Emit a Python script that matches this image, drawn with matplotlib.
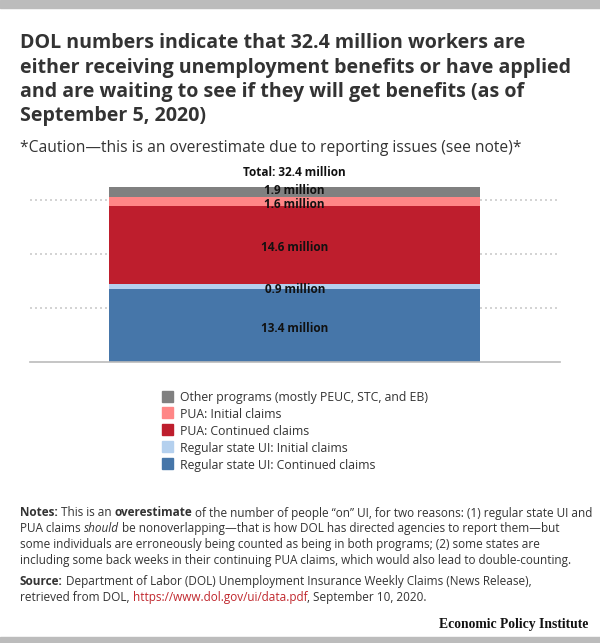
import matplotlib
matplotlib.use("Agg")
import matplotlib.pyplot as plt
from matplotlib.patches import Rectangle

# --- dati (milioni di lavoratori, al 5 settembre 2020) -----------------------------
categorie = [
    "Regular state UI: Continued claims",
    "Regular state UI: Initial claims",
    "PUA: Continued claims",
    "PUA: Initial claims",
    "Other programs (mostly PEUC, STC, and EB)",
]
valori = [13.4, 0.9, 14.6, 1.6, 1.9]
colori = ["#4676a9", "#b4d0ee", "#be1e2d", "#ff8686", "#808080"]
totale = 32.4

titolo = ["DOL numbers indicate that 32.4 million workers are",
          "either receiving unemployment benefits or have applied",
          "and are waiting to see if they will get benefits (as of",
          "September 5, 2020)"]
sottotitolo = "*Caution\u2014this is an overestimate due to reporting issues (see note)*"

FONT = "Open Sans"
W, H = 600, 643
plt.rcParams["font.family"] = FONT

fig = plt.figure(figsize=(W / 100, H / 100), dpi=100)
fig.patch.set_facecolor("white")
renderer = fig.canvas.get_renderer()


def fy(px):
    return 1 - px / H


def larghezza(testo, **kw):
    t = fig.text(0, 0, testo, **kw)
    w = t.get_window_extent(renderer=renderer).width
    t.remove()
    return w


def misura(testo, target_px, **kw):
    """dimensione font tale che il testo occupi target_px pixel"""
    return 10 * target_px / larghezza(testo, fontsize=10, **kw)


# barre grigie sopra e sotto
fig.patches.append(Rectangle((0, fy(7.5)), 1, 7.5 / H, transform=fig.transFigure,
                             color="#bcbcbc", zorder=0))
fig.patches.append(Rectangle((0, 0), 1, 6 / H, transform=fig.transFigure,
                             color="#bcbcbc", zorder=0))

# titolo
fs_tit = misura(titolo[1], 554, fontweight="bold")
for i, riga in enumerate(titolo):
    fig.text(20 / W, fy(48.5 + i * 24), riga, fontsize=fs_tit, fontweight="bold",
             color="#333333", va="baseline", ha="left")
fs_sub = misura(sottotitolo, 502)
fig.text(20 / W, fy(151.5), sottotitolo, fontsize=fs_sub, color="#333333",
         va="baseline", ha="left")

# --- grafico ----------------------------------------------------------------------
ax_left, ax_right, ax_bottom = 29.5, 560, 361.7
px_per_unit = 5.4
ymax = 35
ax = fig.add_axes([ax_left / W, fy(ax_bottom), (ax_right - ax_left) / W,
                   ymax * px_per_unit / H])

fs_lab = misura("14.6 million", 67.5, fontweight="bold")
spost = [-4.5, -4.1, -4.5, -4.5, -1.4]   # piccoli aggiustamenti verticali (pt)
fondo = 0
for cat, val, col, dy in zip(categorie, valori, colori, spost):
    ax.bar(0, val, width=0.7, bottom=fondo, color=col, label=cat, zorder=2)
    ax.annotate(f"{val} million", (0, fondo + val / 2), xytext=(0, dy),
                textcoords="offset points", ha="center", va="baseline",
                fontsize=fs_lab, fontweight="bold", color="#111111", zorder=3)
    fondo += val
ax.annotate(f"Total: {totale} million", (0, fondo), xytext=(0, 7.9),
            textcoords="offset points", ha="center", va="baseline",
            fontsize=fs_lab, fontweight="bold", color="#111111")

ax.set_xlim(-0.5, 0.5)
ax.set_ylim(0, ymax)
ax.set_yticks([10, 20, 30])
ax.set_xticks([])
ax.tick_params(left=False, labelleft=False)
ax.grid(axis="y", color="#cccccc", linewidth=1.2, linestyle=(0, (1.2, 1.8)))
ax.set_axisbelow(True)
for s in ["top", "left", "right"]:
    ax.spines[s].set_visible(False)
ax.spines["bottom"].set_color("#bbbbbb")
ax.spines["bottom"].set_linewidth(1.2)
ax.patch.set_alpha(0)

# legenda (ordine inverso, disegnata a mano)
fs_leg = misura(categorie[-1], 247)
for i, (cat, col) in enumerate(zip(categorie[::-1], colori[::-1])):
    yc = 396 + i * 16.9
    fig.patches.append(Rectangle((162 / W, fy(yc + 5.5)), 11 / W, 11 / H,
                                 transform=fig.transFigure, color=col))
    fig.text(180 / W, fy(yc), cat, fontsize=fs_leg, color="#333333",
             va="center_baseline", ha="left")

# --- note e fonte -----------------------------------------------------------------
B = {"fontweight": "bold"}
I = {"fontstyle": "italic"}
R = {}
LINK = {"color": "#c0272d"}

righe_note = [
    [("Notes:", B), (" This is an ", R), ("overestimate", B),
     (" of the number of people \u201con\u201d UI, for two reasons: (1) regular state UI and", R)],
    [("PUA claims ", R), ("should", I),
     (" be nonoverlapping\u2014that is how DOL has directed agencies to report them\u2014but", R)],
    [("some individuals are erroneously being counted as being in both programs; (2) some states are", R)],
    [("including some back weeks in their continuing PUA claims, which would also lead to double-counting.", R)],
]
righe_fonte = [
    [("Source:", B), (" Department of Labor (DOL) Unemployment Insurance Weekly Claims (News Release),", R)],
    [("retrieved from DOL, ", R), ("https://www.dol.gov/ui/data.pdf", LINK), (", September 10, 2020.", R)],
]
fs_note = misura(righe_note[3][0][0], 556)


def riga_mista(y, runs, size):
    x = 20.0
    for testo, stile in runs:
        kw = dict(fontsize=size, color="#333333", va="baseline", ha="left")
        kw.update(stile)
        sp = larghezza("a a", **kw) - larghezza("aa", **kw)
        lead = len(testo) - len(testo.lstrip(" "))
        trail = len(testo) - len(testo.rstrip(" "))
        x += lead * sp
        t = fig.text(x / W, fy(y), testo.strip(" "), **kw)
        x += t.get_window_extent(renderer=renderer).width + trail * sp


for i, runs in enumerate(righe_note):
    riga_mista(516.5 + i * 15.8, runs, fs_note)
for i, runs in enumerate(righe_fonte):
    riga_mista(585 + i * 15.8, runs, fs_note)

fs_epi = misura("Economic Policy Institute", 149, fontweight="bold",
                family="Liberation Serif")
fig.text(588 / W, fy(628), "Economic Policy Institute", fontsize=fs_epi,
         fontweight="bold", family="Liberation Serif", color="#111111",
         ha="right", va="baseline")

fig.savefig("out.png", dpi=100, facecolor="white")
